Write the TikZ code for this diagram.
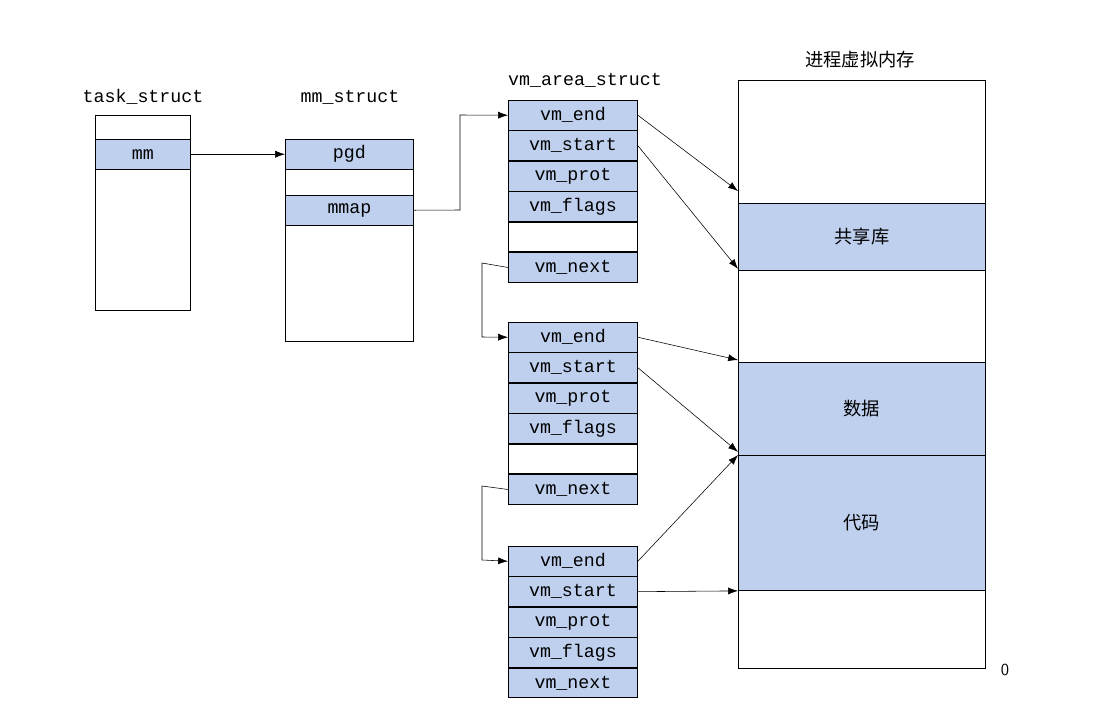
\documentclass[tikz,border=0pt]{standalone}
\usepackage{fontspec}
\setmonofont{Liberation Mono}
\newfontfamily\cjk{Noto Sans CJK SC}
\usetikzlibrary{positioning}
\usetikzlibrary{arrows.meta}
\definecolor{memblue}{RGB}{190,208,238}
\tikzstyle{F} = [draw=black,line width=0.6pt,minimum width=3.225cm,minimum height=0.74cm,inner sep=0pt,font=\fontsize{13}{15}\selectfont\ttfamily,anchor=north west]
\tikzstyle{B} = [F,fill=memblue]
\tikzstyle{lbl} = [font=\fontsize{13}{15}\selectfont\ttfamily]
\tikzset{>={Latex[length=7pt,width=5pt]}}

\begin{document}
\begin{tikzpicture}[x=0.025cm,y=-0.025cm]
  \useasboundingbox (0,0) rectangle (1120,717);

  % task_struct
  \node [lbl] (tl) at (143,97) {task\_struct};
  \node [F,minimum width=2.375cm,minimum height=4.875cm] (t0) at (95,115) {};
  \node [B,minimum width=2.375cm] (tmm) at (95,139) {mm};

  % mm_struct
  \node [lbl] (ml) at (350,97) {mm\_struct};
  \node [F,minimum width=3.2cm,minimum height=5.05cm] (m0) at (285,139) {};
  \node [B,minimum width=3.2cm] (mpgd) at (285,139) {pgd};
  \node [B,minimum width=3.2cm] (mmap) at (285,195) {mmap};

  % vm_area_struct 1
  \node [lbl] (vl) at (585,80) {vm\_area\_struct};
  \node [B] (a1) at (508,100) {vm\_end};
  \node [B,below=0pt of a1.south west,anchor=north west] (a2) {vm\_start};
  \node [B,below=0pt of a2.south west,anchor=north west] (a3) {vm\_prot};
  \node [B,below=0pt of a3.south west,anchor=north west] (a4) {vm\_flags};
  \node [F,below=0pt of a4.south west,anchor=north west] (a5) {};
  \node [B,below=0pt of a5.south west,anchor=north west] (a6) {vm\_next};

  % vm_area_struct 2
  \node [B] (b1) at (508,322) {vm\_end};
  \node [B,below=0pt of b1.south west,anchor=north west] (b2) {vm\_start};
  \node [B,below=0pt of b2.south west,anchor=north west] (b3) {vm\_prot};
  \node [B,below=0pt of b3.south west,anchor=north west] (b4) {vm\_flags};
  \node [F,below=0pt of b4.south west,anchor=north west] (b5) {};
  \node [B,below=0pt of b5.south west,anchor=north west] (b6) {vm\_next};

  % vm_area_struct 3
  \node [B] (c1) at (508,546) {vm\_end};
  \node [B,below=0pt of c1.south west,anchor=north west] (c2) {vm\_start};
  \node [B,below=0pt of c2.south west,anchor=north west] (c3) {vm\_prot};
  \node [B,below=0pt of c3.south west,anchor=north west] (c4) {vm\_flags};
  \node [B,below=0pt of c4.south west,anchor=north west] (c5) {vm\_next};

  % process virtual memory
  \node [font=\fontsize{13}{15}\selectfont\cjk] (pl) at (860,60) {进程虚拟内存};
  \node [F,minimum width=6.175cm,minimum height=14.7cm] (vm) at (738,80) {};
  \node [B,minimum width=6.175cm,minimum height=1.675cm,font=\fontsize{13}{15}\selectfont\cjk] (lib) at (738,203) {共享库};
  \node [B,minimum width=6.175cm,minimum height=2.325cm,font=\fontsize{13}{15}\selectfont\cjk] (dat) at (738,362) {数据};
  \node [B,minimum width=6.175cm,minimum height=3.375cm,font=\fontsize{13}{15}\selectfont\cjk] (cod) at (738,455) {代码};
  \node [font=\fontsize{12}{14}\selectfont\sffamily] (zero) at (1005,670) {0};

  \coordinate (p1) at (460,210);
  \coordinate (p2) at (460,115);
  \coordinate (q1) at (482,263);
  \coordinate (q2) at (482,337);
  \coordinate (r1) at (482,486);
  \coordinate (r2) at (482,560);

  \draw [->] (tmm.east) -- (mpgd.west);
  \draw [->] (mmap.east) -- (p1) -- (p2) -- (a1.west);
  \draw [->] (a6.west) -- (q1) -- (q2) -- (b1.west);
  \draw [->] (b6.west) -- (r1) -- (r2) -- (c1.west);

  \draw [->] (a1.east) -- ([yshift=0.3cm]lib.north west);
  \draw [->] (a2.east) -- ([yshift=0.05cm]lib.south west);
  \draw [->] (b1.east) -- ([yshift=0.05cm]dat.north west);
  \draw [->] (b2.east) -- ([yshift=0.1cm]dat.south west);
  \draw [->] (c1.east) -- (cod.north west);
  \draw [->] (c2.east) -- (cod.south west);
\end{tikzpicture}
\end{document}
